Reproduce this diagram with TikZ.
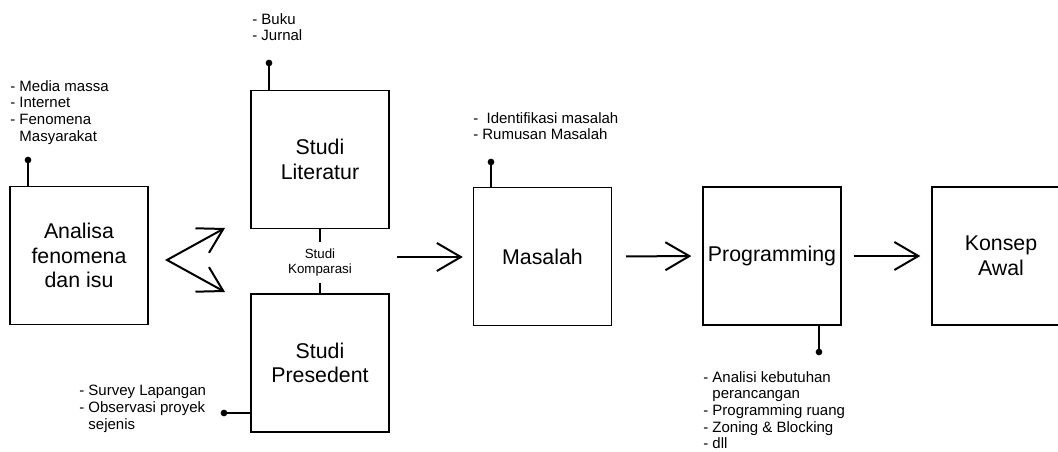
\documentclass[tikz,border=0pt]{standalone}
\usepackage{fontspec}
\setmainfont{Liberation Sans}
\usetikzlibrary{arrows.meta,calc}
\begin{document}
\begin{tikzpicture}[x=0.75pt,y=-0.75pt,
  box/.style={draw,line width=1pt,minimum width=103.5pt,minimum height=103.5pt,inner sep=0pt,align=center,font=\fontsize{16pt}{18.5pt}\selectfont},
  note/.style={anchor=north west,inner sep=0pt,align=left,font=\fontsize{11.25pt}{12.5pt}\selectfont},
  barb/.style={Straight Barb[length=18pt,width=21pt,line width=1.5pt]},
  flow/.style={line width=1.5pt,-{Straight Barb[length=18pt,width=21pt,line width=1.5pt]}},
  stem/.style={line width=1.1pt},
  stub/.style={line width=1.5pt},
  dot/.style={circle,fill,inner sep=0pt,minimum size=5pt}
]
\clip (0,0) rectangle (1058,452);

% boxes
\node[box] (ana) at (79,255.5) {Analisa\\fenomena\\dan isu};
\node[box] (lit) at (320,159.5) {Studi\\Literatur};
\node[box] (pre) at (320,363) {Studi\\Presedent};
\node[box] (mas) at (542.5,256.5) {Masalah};
\node[box] (prog) at (772,256) {Programming};
\node[box] (kon) at (1001,256) {Konsep\\Awal};

% comparison label
\node[font=\fontsize{10pt}{11.25pt}\selectfont,align=center,inner sep=5pt] (komp) at (320,262.5) {Studi\\Komparasi};
\draw[stub] (lit.south) -- (komp.north);
\draw[stub] (komp.south) -- (pre.north);

% fork arrows
\coordinate (fork) at (167,260);
\coordinate (litin) at (225,228);
\coordinate (prein) at (225,292);
\draw[line width=1.5pt,{Straight Barb[length=18pt,width=21pt,line width=1.5pt]}-{Straight Barb[length=18pt,width=21pt,line width=1.5pt]}] (litin) -- (fork) -- (prein);

% main flow
\coordinate (kout) at (397,257);
\draw[flow,shorten >=7.5pt] (kout) -- (kout -| mas.west);
\draw[flow,shorten <=10.5pt,shorten >=8.25pt] (mas.east) -- (prog.west);
\draw[flow,shorten <=9pt,shorten >=8.25pt] (prog.east) -- (kon.west);

% stems with dots
\node[dot] (d1) at (28,160) {};
\draw[stem] (d1.center) -- (d1.center |- ana.north);
\node[dot] (d2) at (269,63) {};
\draw[stem] (d2.center) -- (d2.center |- lit.north);
\node[dot] (d3) at (491,162) {};
\draw[stem] (d3.center) -- (d3.center |- mas.north);
\node[dot] (d4) at (819,352) {};
\draw[stem] (d4.center) -- (d4.center |- prog.south);
\node[dot] (d5) at (224,413) {};
\draw[stem] (d5.center) -- (d5.center -| pre.west);

% notes
\node[note] (n1) at (10,80) {- Media massa\\- Internet\\- Fenomena\\\hphantom{-}\ Masyarakat};
\node[note] (n2) at (252,13) {- Buku\\- Jurnal};
\node[note] (n3) at (473,112) {-\ \ Identifikasi masalah\\- Rumusan Masalah};
\node[note] (n4) at (79,385) {- Survey Lapangan\\- Observasi proyek\\\hphantom{-}\ sejenis};
\node[note] (n5) at (703,371) {- Analisi kebutuhan\\\hphantom{-}\ perancangan\\- Programming ruang\\- Zoning \& Blocking\\- dll};
\end{tikzpicture}
\end{document}
